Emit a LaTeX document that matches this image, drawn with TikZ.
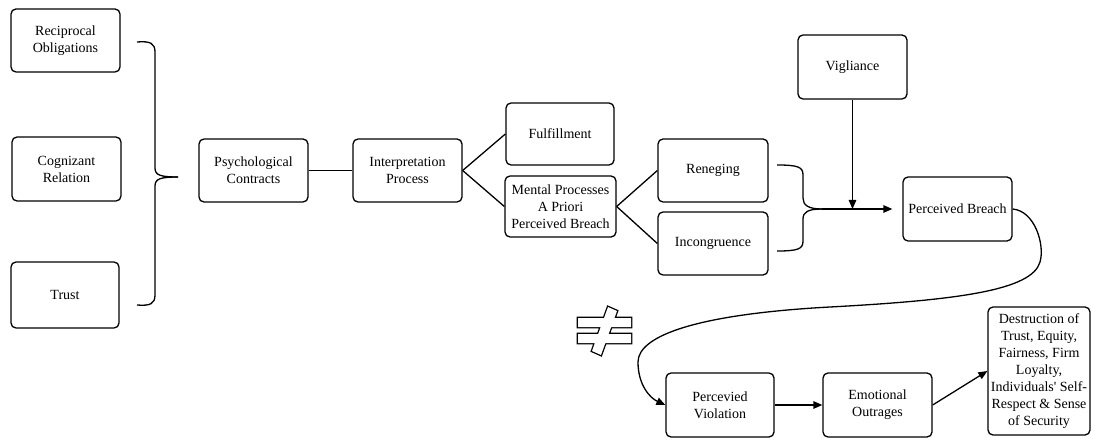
\documentclass[tikz,border=0pt]{standalone}
\usepackage{fontspec}
\setmainfont{Liberation Serif}
\newfontfamily\boxfont{Liberation Serif}
\usetikzlibrary{arrows.meta}
\begin{document}
\begin{tikzpicture}[x=1pt,y=-1pt,
  box/.style={draw, rounded corners=5pt, line width=1.3pt, align=center, inner sep=1pt,
    minimum width=109pt, minimum height=63pt, font=\boxfont\fontsize{14}{17}\selectfont},
  ln/.style={line width=1.3pt},
  arr/.style={line width=1.3pt, -{Triangle[length=9pt,width=7.5pt]}}]
\useasboundingbox (0,0) rectangle (1094,438);
% left column
\node[box] (ro) at (65.5,40.5) {Reciprocal\\Obligations};
\node[box, minimum height=64pt] (cr) at (66.5,169) {Cognizant\\Relation};
\node[box, minimum width=108pt, minimum height=66pt] (tr) at (65,295) {Trust};
% brace
\coordinate (btip) at (178,177);
\draw[ln] (137,42) .. controls (150,41) and (155,43) .. (155,52) -- (155,168) .. controls (155,175) and (160,177) .. (btip);
\draw[ln] (137,305) .. controls (150,306) and (155,304) .. (155,295) -- (155,186) .. controls (155,179) and (160,177) .. (btip);
% main chain
\node[box] (pc) at (253.5,170.5) {Psychological\\Contracts};
\node[box] (ip) at (407.5,170.5) {Interpretation\\Process};
\node[box, minimum width=108pt, minimum height=62pt] (fu) at (560,134) {Fulfillment};
\node[box, minimum width=111pt, minimum height=61pt] (mp) at (560.5,206.5) {Mental Processes\\A Priori\\Perceived Breach};
\node[box, minimum width=110pt] (re) at (713,170.5) {Reneging};
\node[box, minimum width=110pt] (in) at (713,243.5) {Incongruence};
\node[box, minimum height=64pt] (vi) at (852.5,67) {Vigliance};
\node[box, minimum height=64pt] (pb) at (957.5,209) {Perceived Breach};
\node[box, minimum width=108pt, minimum height=64pt] (pv) at (720,405) {Percevied\\Violation};
\node[box, minimum height=64pt] (eo) at (877.5,405) {Emotional\\Outrages};
\node[box, minimum width=102pt, minimum height=128pt, inner sep=0pt] (de) at (1039,371)
  {Destruction of\\Trust, Equity,\\Fairness, Firm\\Loyalty,\\Individuals' Self-\\Respect \& Sense\\of Security};
\draw[ln] (pc.east) -- (ip.west);
\draw[ln] (ip.east) -- (fu.west);
\draw[ln] (ip.east) -- (mp.west);
\draw[ln] (mp.east) -- (re.west);
\draw[ln] (mp.east) -- (in.west);
% right brace
\coordinate (tip) at (822,209);
\draw[ln] (777,165) .. controls (798,165) and (803,167) .. (803,175) -- (803,198) .. controls (803,205) and (808,209) .. (tip);
\draw[ln] (777,251) .. controls (798,251) and (803,249) .. (803,241) -- (803,219) .. controls (803,212) and (808,209) .. (tip);
\draw[arr] (tip) -- ([xshift=-10pt]pb.west);
\draw[arr] (vi.south) -- (vi.south |- tip);
% long curve
\draw[arr] (pb.east) .. controls (1035,211) and (1045,245) .. (1040,262)
  .. controls (1032,290) and (960,300) .. (830,307)
  .. controls (700,314) and (638,335) .. (638,362)
  .. controls (638,385) and (650,398) .. (pv.west);
\draw[arr] (pv.east) -- (eo.west);
\draw[arr] (eo.east) -- (de.west);
% not-equal symbol
\draw[line width=2.6pt] (578,318) rectangle (631,327) (578,334) rectangle (631,343)
  (592,351) -- (601,355) -- (617,311) -- (608,307) -- cycle;
\fill[white] (578,318) rectangle (631,327) (578,334) rectangle (631,343)
  (592,351) -- (601,355) -- (617,311) -- (608,307) -- cycle;
\end{tikzpicture}
\end{document}
